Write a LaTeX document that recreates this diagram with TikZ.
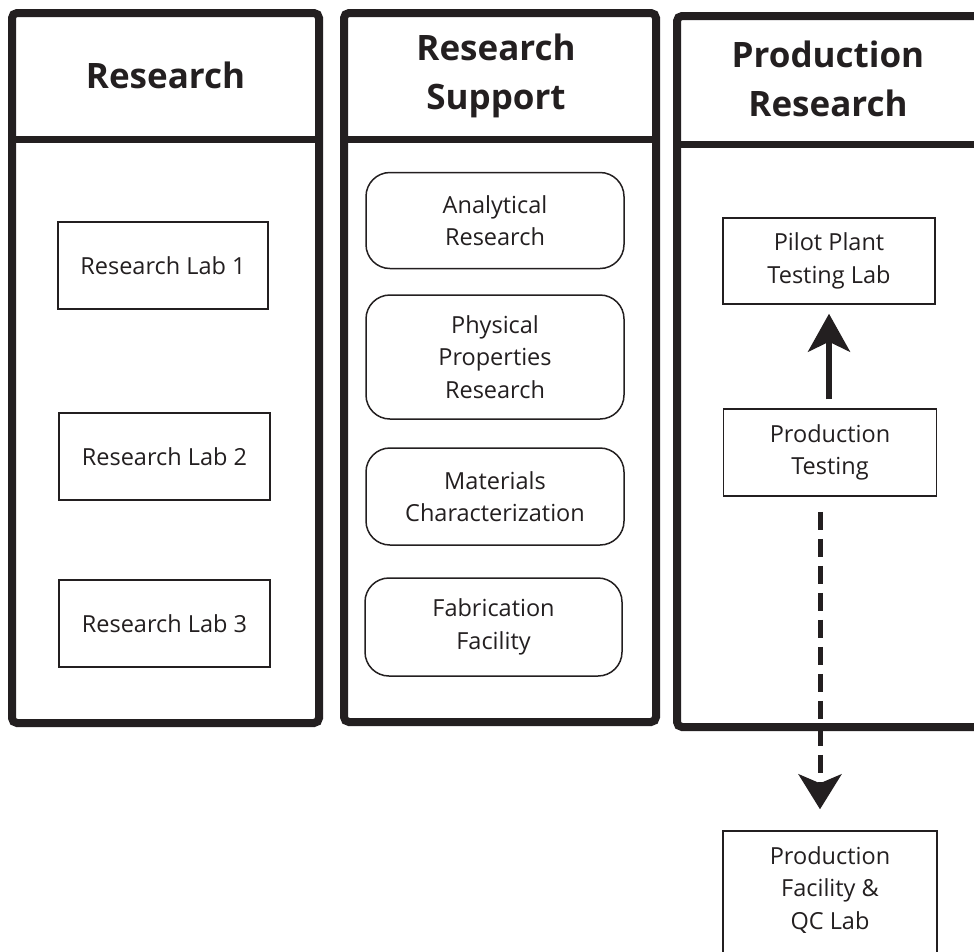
\documentclass[tikz,border=0pt]{standalone}
\usepackage{fontspec}
\setmainfont{Open Sans}
\usetikzlibrary{arrows.meta,fit}
\definecolor{ink}{HTML}{231F20}
\tikzset{
  colframe/.style={draw=ink, line width=8pt, rounded corners=5pt},
  coldiv/.style={draw=ink, line width=7pt},
  head/.style={font=\fontsize{35}{48.5}\selectfont\bfseries, align=center, text=ink},
  sqbox/.style={draw=ink, line width=1.5pt, align=center, text=ink, inner sep=0pt,
     font=\fontsize{23.5}{32.5}\selectfont},
  rbox/.style={sqbox, rounded corners=24pt},
  plain/.style={align=center, text=ink, font=\fontsize{23.5}{32.5}\selectfont},
  solidarrow/.style={draw=ink, line width=5.5pt, -{Stealth[length=38pt,width=42pt,inset=10pt]}},
  dasharrow/.style={draw=ink, line width=5pt, dash pattern=on 18pt off 9pt,
     -{Stealth[length=35pt,width=43pt,inset=9pt]}}
}
\begin{document}
\begin{tikzpicture}[x=1pt,y=-1pt]
\useasboundingbox (0,0) rectangle (974,951);
\fill[white] (0,0) rectangle (974,951);
% columns
\draw[colframe] (12,13) rectangle (319,723);
\draw[coldiv] (12,139) -- (319,139);
\node[head] (h1) at (165.5,75) {Research};
\draw[colframe] (344,13) rectangle (656,722);
\draw[coldiv] (344,139) -- (656,139);
\node[head] (h2) at (496,76) {Research\\Support};
\draw[colframe] (677,16) rectangle (1010,727);
\draw[coldiv] (677,144) -- (1010,144);
\node[head] (h3) at (828,79) {Production\\Research};
% column 1 boxes
\node[sqbox, minimum width=210pt, minimum height=87pt] (lab1) at (163,265.5) {Research Lab 1};
\node[sqbox, minimum width=211pt, minimum height=87pt] (lab2) at (164.5,456.5) {Research Lab 2};
\node[sqbox, minimum width=211pt, minimum height=87pt] (lab3) at (164.5,623.5) {Research Lab 3};
% column 2 boxes
\node[rbox, minimum width=258pt, minimum height=96pt] (ana) at (495,220.5) {Analytical\\Research};
\node[rbox, minimum width=258pt, minimum height=124pt] (phys) at (495,357) {Physical\\Properties\\Research};
\node[rbox, minimum width=258pt, minimum height=97pt] (mat) at (495,496.5) {Materials\\Characterization};
\node[rbox, minimum width=257pt, minimum height=98pt] (fab) at (493.5,627) {Fabrication\\Facility};
% column 3 boxes
\node[sqbox, minimum width=212pt, minimum height=86pt] (pilot) at (829,261) {Pilot Plant\\Testing Lab};
\node[sqbox, minimum width=213pt, minimum height=87pt] (ptest) at (830,452.5) {Production\\Testing};
\coordinate (pfa) at (723,831);
\coordinate (pfb) at (937,990);
\node[draw=ink, line width=1.5pt, inner sep=0pt, fit=(pfa)(pfb)] (pf) {};
\node[plain] (pftext) at (830,890) {Production\\Facility \&\\QC Lab};
% connectors
\draw[solidarrow, shorten <=9pt, shorten >=9pt] (ptest.north -| pilot.south) -- (pilot.south);
\draw[dasharrow, shorten <=15pt, shorten >=21pt] ([xshift=-10pt]ptest.south) -- ([xshift=-10pt]pf.north);
\end{tikzpicture}
\end{document}
